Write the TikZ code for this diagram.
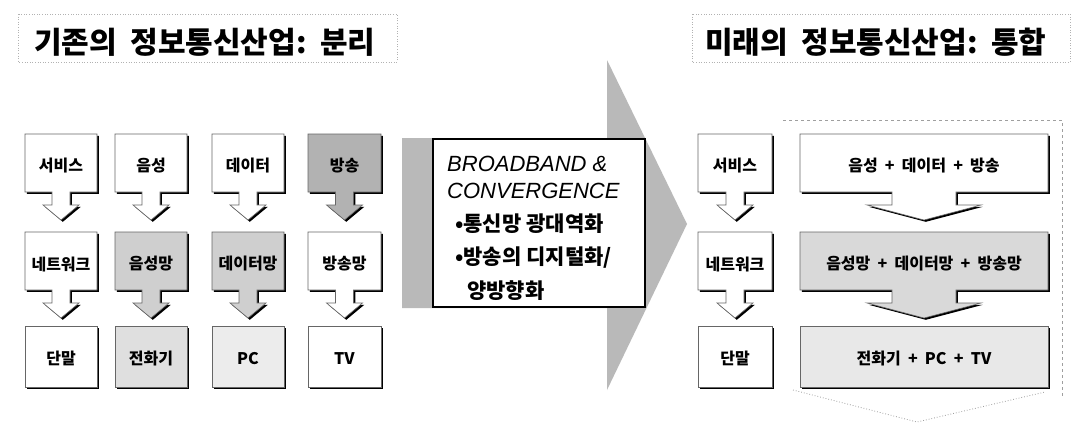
\documentclass[tikz,border=0pt]{standalone}
\usepackage{fontspec}
\newfontfamily\kr{Noto Sans CJK KR}
\newfontfamily\lsans{Liberation Sans}
\usetikzlibrary{shadows}
\tikzset{
 box/.style={draw=black!60, line width=0.6pt, drop shadow={shadow xshift=1.8pt, shadow yshift=-1.8pt, fill=black, opacity=1}},
 lbl/.style={font=\kr\bfseries\fontsize{16}{16}\selectfont, inner sep=0pt},
 ttl/.style={font=\kr\bfseries\fontsize{30}{30}\selectfont, inner sep=0pt, anchor=west},
 ttlframe/.style={draw=gray!60, dotted, line width=0.6pt},
 frame/.style={draw=gray!75, dashed, line width=0.8pt},
 mid/.style={font=\kr\bfseries\fontsize{21}{21}\selectfont, inner sep=0pt, anchor=base west},
 eng/.style={font=\lsans\itshape\fontsize{22}{22}\selectfont, inner sep=0pt, anchor=base west},
}
% name, x1, y1, x2, y2, stem half width, head half width, fill, text
\newcommand\callout[9]{%
 \path[box, fill=#8] (#2,#3) -- (#4,#3) -- (#4,#5) -- ({(#2+#4)/2+#6},#5) -- ({(#2+#4)/2+#6},{#5+13}) -- ({(#2+#4)/2+#7},{#5+13}) -- ({(#2+#4)/2},{#5+28}) -- ({(#2+#4)/2-#7},{#5+13}) -- ({(#2+#4)/2-#6},{#5+13}) -- ({(#2+#4)/2-#6},#5) -- (#2,#5) -- cycle;
 \node[lbl] (#1) at ({(#2+#4)/2},{(#3+#5)/2+3}) {#9};
}
% name, x1, y1, x2, y2, fill, text
\newcommand\plainbox[7]{%
 \path[box, fill=#6] (#2,#3) rectangle (#4,#5);
 \node[lbl] (#1) at ({(#2+#4)/2},{(#3+#5)/2+2}) {#7};
}
\newcommand\wsp{\hspace{0.45em}}
\begin{document}
\begin{tikzpicture}[x=1pt,y=-1pt]
\useasboundingbox[fill=white] (0,0) rectangle (1074,432);
% titles
\draw[ttlframe] (18,14) rectangle (397,62);
\draw[ttlframe] (692,14) rectangle (1070,62);
\node[ttl] (lt) at (34,42) {기존의\wsp{}정보통신산업:\wsp{}분리};
\node[ttl] (rt) at (705,42) {미래의\wsp{}정보통신산업:\wsp{}통합};
% left grid
\callout{a1}{25}{134}{97}{192}{9}{18}{white}{서비스}
\callout{a2}{115}{134}{187}{192}{9}{18}{white}{음성}
\callout{a3}{212}{134}{284}{192}{9}{18}{white}{데이터}
\callout{a4}{308}{134}{381}{192}{9}{18}{gray!60}{방송}
\callout{b1}{25}{232}{97}{290}{9}{18}{white}{네트워크}
\callout{b2}{115}{232}{187}{290}{9}{18}{gray!38}{음성망}
\callout{b3}{212}{232}{284}{290}{9}{18}{gray!38}{데이터망}
\callout{b4}{308}{232}{381}{290}{9}{18}{white}{방송망}
\plainbox{c1}{25}{326}{97}{387}{white}{단말}
\plainbox{c2}{115}{326}{187}{387}{gray!25}{전화기}
\plainbox{c3}{212}{326}{284}{387}{gray!15}{PC}
\plainbox{c4}{308}{326}{381}{387}{white}{TV}
% middle arrow
\path[fill=gray!55] (402,138) -- (607,138) -- (607,60) -- (687,224) -- (607,390) -- (607,308) -- (402,308) -- cycle;
\node[draw=black, line width=1.6pt, fill=white, minimum width=212pt, minimum height=168pt, inner sep=0pt, drop shadow={shadow xshift=1.2pt, shadow yshift=-1.2pt, fill=black, opacity=1}] (conv) at (539,223) {};
\node[eng] (t1) at (447,171) {BROADBAND \&};
\node[eng] (t2) at (447,198) {CONVERGENCE};
\node[mid] (t3) at (455,231) {•통신망 광대역화};
\node[mid] (t4) at (455,264) {•방송의 디지털화/};
\node[mid] (t5) at (467,298) {양방향화};
% right frame
\draw[frame] (783,120) -- (1062,120) -- (1062,398);
\draw[draw=gray!75, dotted, line width=0.8pt] (793,390) -- (917,422) -- (1045,392);
% right grid
\callout{r1}{698}{134}{772}{192}{9}{18}{white}{서비스}
\callout{r2}{698}{232}{772}{290}{9}{18}{white}{네트워크}
\plainbox{r3}{698}{326}{772}{387}{white}{단말}
\callout{w1}{800}{134}{1048}{192}{32}{57}{white}{음성\wsp{}+\wsp{}데이터\wsp{}+\wsp{}방송}
\callout{w2}{800}{232}{1048}{290}{32}{57}{gray!30}{음성망\wsp{}+\wsp{}데이터망\wsp{}+\wsp{}방송망}
\plainbox{w3}{800}{326}{1048}{387}{gray!18}{전화기\wsp{}+\wsp{}PC\wsp{}+\wsp{}TV}
\end{tikzpicture}
\end{document}
